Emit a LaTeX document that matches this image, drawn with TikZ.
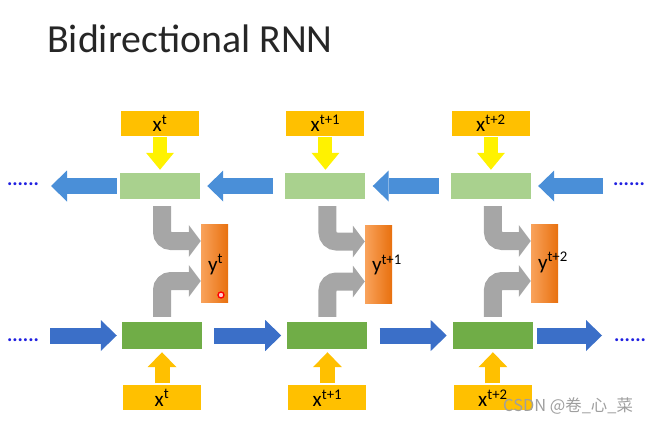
\documentclass[tikz,border=0pt]{standalone}
\usepackage{fontspec}
\setmainfont{Carlito}
\newfontfamily\cjkfont{Noto Sans CJK SC}
\usepackage{tikz}
\usetikzlibrary{arrows.meta,calc,positioning}
\definecolor{xorange}{HTML}{FFC000}
\definecolor{bgreen}{HTML}{A9D18E}
\definecolor{fgreen}{HTML}{70AD47}
\definecolor{bblue}{HTML}{4A8FD8}
\definecolor{fblue}{HTML}{3B6FC8}
\definecolor{dotblue}{HTML}{1F1FE0}
\definecolor{yyellow}{HTML}{FFF200}
\definecolor{ggray}{HTML}{A6A6A6}
\definecolor{ylight}{HTML}{F9A35C}
\definecolor{ydark}{HTML}{E8700E}
\tikzset{
    %Define style for input boxes
    inp/.style={
           rectangle,
           fill=xorange,
           minimum width=2.34cm,
           minimum height=0.75cm,
           inner sep=0pt,
           font=\fontsize{18}{20}\selectfont},
    %Define style for hidden boxes
    back/.style={
           rectangle,
           fill=bgreen,
           minimum width=2.4cm,
           minimum height=0.78cm},
    forw/.style={
           rectangle,
           fill=fgreen,
           minimum width=2.4cm,
           minimum height=0.81cm},
    %Define style for output boxes
    outp/.style={
           rectangle,
           left color=ylight, right color=ydark,
           minimum width=0.81cm,
           minimum height=2.34cm},
    outlab/.style={
           anchor=base west,
           inner sep=0pt,
           font=\fontsize{18}{20}\selectfont},
    dots/.style={
           anchor=base,
           inner sep=0pt,
           text=dotblue,
           font=\fontsize{17}{17}\selectfont\bfseries},
    % Define arrow styles
    bpil/.style={
           draw=bblue, line width=0.48cm,
           -{Triangle[length=0.48cm, width=0.93cm, line width=0pt, color=bblue]},
           shorten <=0.36cm,
           shorten >=0.21cm},
    fpil/.style={
           draw=fblue, line width=0.48cm,
           -{Triangle[length=0.48cm, width=0.93cm, line width=0pt, color=fblue]},
           shorten <=0.36cm,
           shorten >=0.18cm},
    ypil/.style={
           draw=yyellow, line width=0.42cm,
           -{Triangle[length=0.51cm, width=0.84cm, line width=0pt, color=yyellow]},
           shorten <=0.03cm,
           shorten >=0.09cm},
    opil/.style={
           draw=xorange, line width=0.45cm,
           -{Triangle[length=0.45cm, width=0.87cm, line width=0pt, color=xorange]},
           shorten <=0.06cm,
           shorten >=0.09cm},
    gpil/.style={
           draw=ggray, line width=0.54cm,
           rounded corners=0.27cm,
           -{Triangle[length=0.36cm, width=0.96cm, line width=0pt, color=ggray]}}
}

\begin{document}
\begin{tikzpicture}[x=0.03cm,y=-0.03cm]
\useasboundingbox (0,0) rectangle (650,423);
\node[anchor=base west, inner sep=0pt, text=black!85,
  font=\fontsize{34}{36}\selectfont](title) at (47,53){Bidirectional RNN};
% backward layer
\node[back](b1) at (160,186){};
\node[back, right=2.55cm of b1](b2){};
\node[back, right=2.55cm of b2](b3){};
% forward layer
\node[forw](f1) at (162,335.5){};
\node[forw, right=2.55cm of f1](f2){};
\node[forw, right=2.55cm of f2](f3){};
% inputs
\node[inp, above=1.11cm of b1](xa1){x\textsuperscript{t}};
\node[inp, above=1.11cm of b2](xa2){x\textsuperscript{t+1}};
\node[inp, above=1.11cm of b3](xa3){x\textsuperscript{t+2}};
\node[inp, below=1.08cm of f1](xb1){x\textsuperscript{t}};
\node[inp, below=1.08cm of f2](xb2){x\textsuperscript{t+1}};
\node[inp, below=1.08cm of f3](xb3){x\textsuperscript{t+2}};
% outputs
\node[outp](y1) at (214.5,263){};
\node[outp](y2) at (378.5,264.5){};
\node[outp](y3) at (544.5,263){};
\node[outlab](ly1) at ($(y1.west)+(7,8)$){y\textsuperscript{t}};
\node[outlab](ly2) at ($(y2.west)+(7,7)$){y\textsuperscript{t+1}};
\node[outlab](ly3) at ($(y3.west)+(7,6)$){y\textsuperscript{t+2}};
\node[circle, draw=red, fill=red!20, line width=0.04cm, minimum size=0.18cm,
  inner sep=0pt](pt) at (221,295){};
% dots and open ends
\node[dots](dl1) at (23,185){......};
\node[dots](dr1) at (629,185){......};
\node[dots](dl2) at (23,341){......};
\node[dots](dr2) at (630,341){......};
\coordinate (bl) at (51,186);
\coordinate (br) at (603,186);
\coordinate (fl) at (50,335.5);
\coordinate (fr) at (602,335.5);
\path
    (b1) edge[bpil, shorten <=0.09cm, shorten >=0cm] (bl)
    (b2) edge[bpil] (b1)
    (b3) edge[bpil] (b2)
    (br) edge[bpil, shorten <=0cm] (b3);
\path
    (fl) edge[fpil, shorten <=0cm, shorten >=0.15cm] (f1)
    (f1) edge[fpil] (f2)
    (f2) edge[fpil] (f3)
    (f3) edge[fpil, shorten <=0.12cm, shorten >=0cm] (fr);
\path (xa1) edge[ypil] (b1) (xa2) edge[ypil] (b2) (xa3) edge[ypil] (b3);
\path (xb1) edge[opil] (f1) (xb2) edge[opil] (f2) (xb3) edge[opil] (f3);
% into the outputs
\draw[gpil] ($(f1.north |- b1.south)+(0,7)$) |- ($(y1.west)+(0,-22)$);
\draw[gpil] ($(f1.north)+(0,-5)$) |- ($(y1.west)+(0,18)$);
\draw[gpil] ($(f2.north |- b2.south)+(0,7)$) |- ($(y2.west)+(0,-23)$);
\draw[gpil] ($(f2.north)+(0,-5)$) |- ($(y2.west)+(0,17)$);
\draw[gpil] ($(f3.north |- b3.south)+(0,7)$) |- ($(y3.west)+(0,-22)$);
\draw[gpil] ($(f3.north)+(0,-5)$) |- ($(y3.west)+(0,18)$);
\node[anchor=base west, inner sep=0pt, text=gray!75,
  font=\cjkfont\fontsize{14}{14}\selectfont](wm) at (503,411){CSDN @卷\_心\_菜};
\end{tikzpicture}
\end{document}
